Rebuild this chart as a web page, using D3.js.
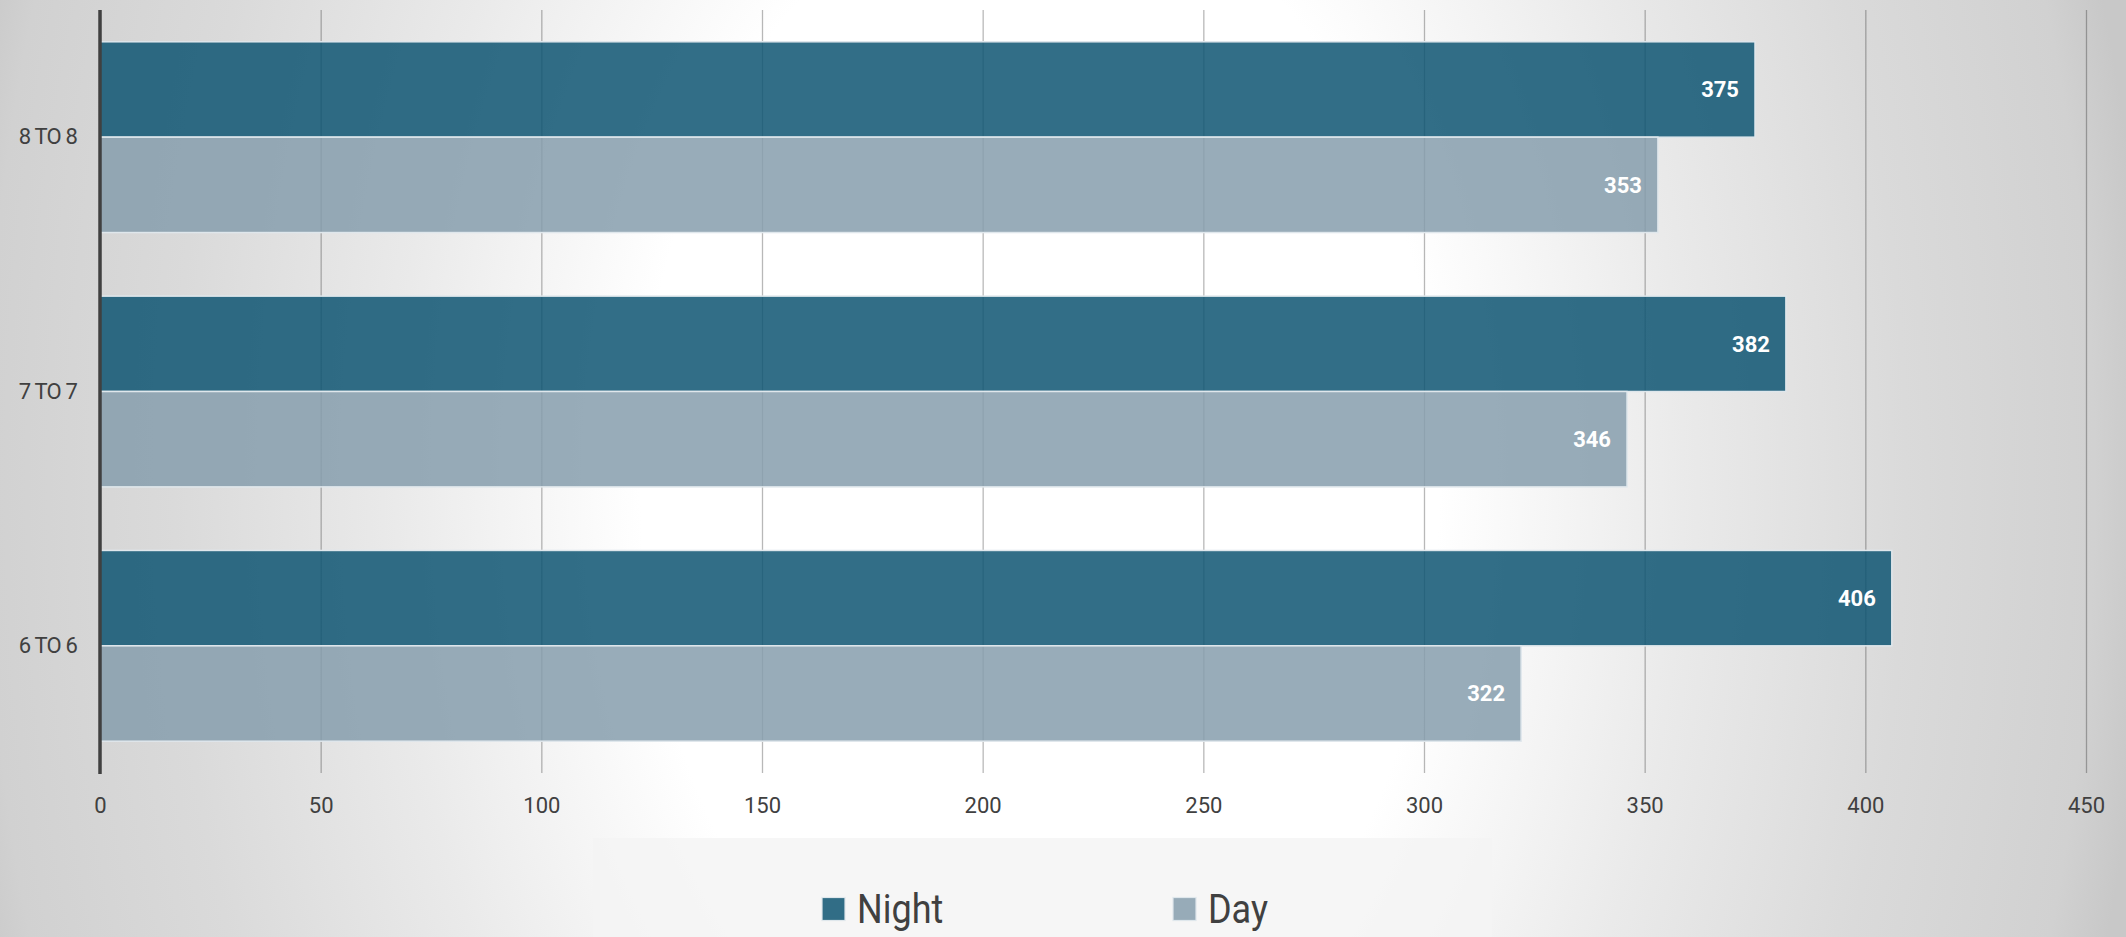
<!DOCTYPE html>
<html>
<head>
<meta charset="utf-8">
<script src="https://cdn.jsdelivr.net/npm/d3@7"></script>
<style>
  html, body { margin: 0; padding: 0; background: #ffffff; }
  svg { display: block; }
</style>
</head>
<body>
<script>
// Shift patterns and headcount per shift
const categories = ["8 TO 8", "7 TO 7", "6 TO 6"];
const seriesNames = ["Night", "Day"];
const nightValues = [375, 382, 406];
const dayValues = [353, 346, 322];
const xTicks = [0, 50, 100, 150, 200, 250, 300, 350, 400, 450];

const W = 2126, H = 937;
const margin = { top: 10, right: 40, bottom: 164, left: 100 };

const svg = d3.select("body").append("svg")
  .attr("width", W).attr("height", H);

// soft radial background, stretched vertically
const defs = svg.append("defs");
const cx = 1040, cy = 480;
const bg = defs.append("radialGradient")
  .attr("id", "bg").attr("gradientUnits", "userSpaceOnUse")
  .attr("cx", cx).attr("cy", cy).attr("r", 1110)
  .attr("gradientTransform", `translate(${cx},${cy}) scale(1,1.5) translate(${-cx},${-cy})`);
[[0, "#ffffff"], [0.36, "#ffffff"], [0.58, "#eaeaea"], [0.78, "#dadada"], [0.95, "#d1d1d1"], [1, "#c8c8c8"]]
  .forEach(([o, c]) => bg.append("stop").attr("offset", o).attr("stop-color", c));
svg.append("rect").attr("width", W).attr("height", H).attr("fill", "url(#bg)");

const x = d3.scaleLinear()
  .domain([xTicks[0], xTicks[xTicks.length - 1]])
  .range([margin.left, W - margin.right]);

const y = d3.scaleBand()
  .domain(categories)
  .range([margin.top, H - margin.bottom])
  .paddingInner(0.25).paddingOuter(0.125);

const ySub = d3.scaleBand()
  .domain(seriesNames)
  .range([0, y.bandwidth()]);

const color = d3.scaleOrdinal()
  .domain(seriesNames)
  .range(["rgb(14,85,114)", "rgb(134,157,173)"]);

const plotBottom = H - margin.bottom;

// vertical gridlines + tick labels
const xAxis = d3.axisBottom(x)
  .tickValues(xTicks)
  .tickSize(-(plotBottom - margin.top))
  .tickPadding(24)
  .tickFormat(d3.format("d"));

const gx = svg.append("g")
  .attr("transform", `translate(0,${plotBottom})`)
  .call(xAxis);
gx.select(".domain").remove();
gx.selectAll(".tick line")
  .attr("stroke", "#000").attr("stroke-opacity", 0.28).attr("stroke-width", 1.3);
gx.selectAll(".tick text")
  .attr("fill", "#404040")
  .style("font-family", "Roboto, 'Noto Sans', sans-serif")
  .style("font-size", "22px");

// bars
const rows = categories.map((c, i) => ({
  category: c,
  values: [
    { key: "Night", value: nightValues[i] },
    { key: "Day", value: dayValues[i] }
  ]
}));

const groups = svg.append("g").selectAll("g")
  .data(rows).join("g")
  .attr("transform", d => `translate(0,${y(d.category)})`);

groups.selectAll("rect")
  .data(d => d.values).join("rect")
  .attr("x", x(0))
  .attr("y", d => ySub(d.key))
  .attr("width", d => x(d.value) - x(0))
  .attr("height", ySub.bandwidth())
  .attr("fill", d => color(d.key))
  .attr("fill-opacity", 0.85)
  .attr("stroke", "#dfe7ec")
  .attr("stroke-width", 1.5);

groups.selectAll("text.value")
  .data(d => d.values).join("text")
  .attr("class", "value")
  .attr("x", d => x(d.value) - 16)
  .attr("y", d => ySub(d.key) + ySub.bandwidth() / 2)
  .attr("dy", "0.36em")
  .attr("text-anchor", "end")
  .attr("fill", "#ffffff")
  .style("font-family", "Roboto, 'Noto Sans', sans-serif")
  .style("font-weight", "700")
  .style("font-size", "22px")
  .text(d => d.value);

// category axis
const yAxis = d3.axisLeft(y).tickSize(0).tickPadding(23);
const gy = svg.append("g")
  .attr("transform", `translate(${x(0)},0)`)
  .call(yAxis);
gy.select(".domain")
  .attr("stroke", "#404040").attr("stroke-width", 3.5)
  .attr("d", `M0,${margin.top}V${plotBottom + 1}`);
gy.selectAll(".tick text")
  .attr("fill", "#404040")
  .style("font-family", "Roboto, 'Noto Sans', sans-serif")
  .style("font-size", "22px")
  .style("letter-spacing", "-0.8px");

// legend
svg.append("rect")
  .attr("x", 593).attr("y", 838).attr("width", 899).attr("height", H - 838)
  .attr("fill", "#f4f4f4").attr("fill-opacity", 0.8);

const legendX = d3.scaleOrdinal().domain(seriesNames).range([822, 1173]);
const legend = svg.append("g").selectAll("g")
  .data(seriesNames).join("g")
  .attr("transform", d => `translate(${legendX(d)},909)`);
legend.append("rect")
  .attr("x", 0).attr("y", -11.5)
  .attr("width", 23).attr("height", 23)
  .attr("fill", d => color(d)).attr("fill-opacity", 0.85)
  .attr("stroke", "#dfe7ec").attr("stroke-width", 1.2);
legend.append("text")
  .attr("transform", "translate(35,14) scale(0.9,1)")
  .attr("fill", "#404040")
  .style("font-family", "Roboto, sans-serif")
  .style("font-size", "40px")
  .text(d => d);
</script>
</body>
</html>
